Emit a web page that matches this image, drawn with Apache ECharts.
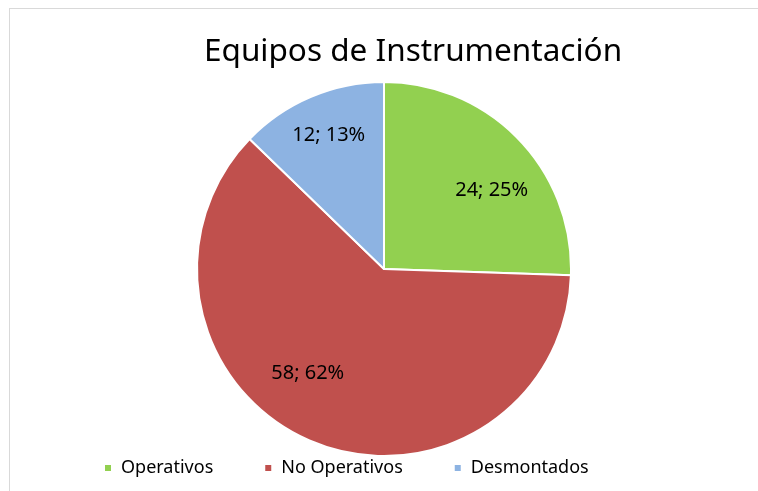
<!DOCTYPE html>
<html>
<head>
<meta charset="utf-8">
<script src="https://cdn.jsdelivr.net/npm/echarts@6/dist/echarts.min.js"></script>
<style>
    html, body { margin: 0; padding: 0; background: #fff; }
    #frame { position: absolute; left: 9px; top: 8px; width: 760px; height: 500px; border: 1px solid #d9d9d9; }
    #pie { width: 758px; height: 491px; position: absolute; left: 0; top: 0; }
</style>
</head>
<body>
<div id="frame"></div>
<div id="pie"></div>
<script>
const categories = ['Operativos', 'No Operativos', 'Desmontados'];
const values = [24, 58, 12];
const colors = ['#92d050', '#c0504d', '#8db3e2'];

const myPie = echarts.init(document.getElementById('pie'));
const pieData = categories.map((name, i) => ({ value: values[i], name: name }));

// small label nudges (Excel "best fit" placement)
const labelNudge = [[6, 20], [-21, -26], [0, -3]];

const optionPie = {
    color: colors,
    textStyle: {
        fontFamily: 'Noto Sans'
    },
    title: {
        text: 'Equipos de Instrumentación',
        left: 199,
        top: 31,
        textStyle: {
            color: '#000',
            fontSize: 31.5,
            fontWeight: 'normal',
            fontFamily: 'Noto Sans'
        }
    },
    legend: {
        left: 98,
        bottom: 9,
        data: categories,
        icon: 'rect',
        itemWidth: 8,
        itemHeight: 8,
        itemGap: 50,
        textStyle: {
            color: '#000',
            fontSize: 18,
            fontFamily: 'Noto Sans',
            padding: [0, 0, 0, 4]
        }
    },
    series: [
        {
            type: 'pie',
            radius: [0, 187],
            center: [384, 269],
            startAngle: 90,
            clockwise: true,
            percentPrecision: 0,
            itemStyle: {
                borderColor: '#fff',
                borderWidth: 2
            },
            label: { show: false },
            labelLine: { show: false },
            emphasis: { disabled: true },
            data: pieData
        },
        {
            // transparent ring only used to place the labels further out
            type: 'pie',
            radius: [90, 187],
            center: [384, 269],
            startAngle: 90,
            clockwise: true,
            percentPrecision: 0,
            silent: true,
            legendHoverLink: false,
            itemStyle: {
                color: 'transparent',
                borderWidth: 0
            },
            label: {
                show: true,
                position: 'inside',
                formatter: '{c}; {d}%',
                color: '#000',
                fontSize: 20,
                fontFamily: 'Noto Sans'
            },
            labelLayout: function (params) {
                const n = labelNudge[params.dataIndex];
                return { dx: n[0], dy: n[1] };
            },
            labelLine: { show: false },
            emphasis: { disabled: true },
            data: pieData
        }
    ]
};
myPie.setOption(optionPie);
</script>
</body>
</html>
